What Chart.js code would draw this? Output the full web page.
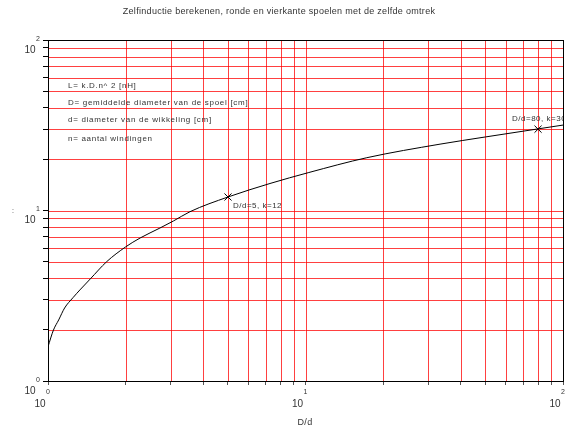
<!DOCTYPE html>
<html>
<head>
<meta charset="utf-8">
<script src="https://cdn.jsdelivr.net/npm/chart.js@4.4.0/dist/chart.umd.min.js"></script>
<style>
  html, body { margin: 0; padding: 0; background: #fff; }
</style>
</head>
<body>
<canvas id="myChart" width="571" height="432"></canvas>
<script>
// curve: D/d against k
const ratio = [1, 1.05, 1.1, 1.16, 1.25, 1.33, 1.46, 1.69, 2, 2.28, 2.72, 3.07, 3.56, 5, 7.28, 10.3, 17.3, 33.3, 50, 80, 100];
const kValues = [1.59, 1.99, 2.28, 2.68, 3.08, 3.42, 3.97, 5.01, 6.11, 6.9, 7.89, 8.68, 9.84, 12, 14.4, 16.7, 20.4, 24.5, 27, 30.1, 31.7];

// marked points
const markRatio = [5, 80];
const markK = [12, 30];
const markLabels = ['D/d=5, k=12', 'D/d=80, k=30'];

// grid positions on both log axes
const gridValues = [1, 2, 3, 4, 5, 6, 7, 8, 9, 10, 20, 30, 40, 50, 60, 70, 80, 90, 100];

// decade tick labels (10 with exponent)
const decades = [1, 10, 100];
const exponents = ['0', '1', '2'];

const legendLines = [
  'L= k.D.n^ 2 [nH]',
  'D= gemiddelde diameter van de spoel [cm]',
  'd= diameter van de wikkeling [cm]',
  'n= aantal windingen'
];
const titleText = 'Zelfinductie berekenen, ronde en vierkante spoelen met de zelfde omtrek';
const xTitle = 'D/d';

const gridRed = 'rgba(255,0,0,0.75)';
const textCol = '#333';
const FONT = '"Liberation Sans", Arial, sans-serif';

// red grid drawn from the scales' own pixel mapping
const redGrid = {
  id: 'redGrid',
  beforeDatasetsDraw(chart) {
    const ctx = chart.ctx;
    const a = chart.chartArea;
    const xs = chart.scales.x, ys = chart.scales.y;
    ctx.save();
    ctx.strokeStyle = gridRed;
    ctx.lineWidth = 1;
    ctx.beginPath();
    gridValues.forEach(v => {
      const px = Math.round(xs.getPixelForValue(v)) + 0.5;
      ctx.moveTo(px, a.top);
      ctx.lineTo(px, a.bottom);
      const py = Math.round(ys.getPixelForValue(v)) + 0.5;
      ctx.moveTo(a.left, py);
      ctx.lineTo(a.right, py);
    });
    ctx.stroke();
    ctx.restore();
  }
};

const extras = {
  id: 'extras',
  afterDraw(chart) {
    const ctx = chart.ctx;
    const a = chart.chartArea;
    const xs = chart.scales.x, ys = chart.scales.y;
    ctx.save();

    // frame
    ctx.strokeStyle = '#000';
    ctx.lineWidth = 1;
    ctx.strokeRect(Math.round(a.left) + 0.5, Math.round(a.top) + 0.5,
      Math.round(a.right - a.left), Math.round(a.bottom - a.top));

    ctx.fillStyle = textCol;
    ctx.textBaseline = 'middle';

    // title
    ctx.font = '9px ' + FONT;
    ctx.letterSpacing = '0.3px';
    ctx.textAlign = 'center';
    ctx.fillText(titleText, 279, 12);

    // x title
    ctx.fillText(xTitle, 305, 423);

    // y title (squeezed)
    ctx.font = '7px ' + FONT;
    ctx.fillText(':', 13, 211);
    ctx.letterSpacing = '0px';

    // decade labels on y
    decades.forEach((v, i) => {
      const py = ys.getPixelForValue(v);
      ctx.font = '10px ' + FONT;
      ctx.textAlign = 'center';
      ctx.fillText('10', 30, py + 10);
      ctx.font = '7px ' + FONT;
      ctx.fillText(exponents[i], 38, py - 1);
    });

    // decade labels on x
    decades.forEach((v, i) => {
      const px = xs.getPixelForValue(v);
      ctx.font = '7px ' + FONT;
      ctx.textAlign = 'center';
      ctx.fillText(exponents[i], px, 392);
      ctx.font = '10px ' + FONT;
      ctx.fillText('10', px - 8, 404);
    });

    // legend text block
    ctx.font = '8px ' + FONT;
    ctx.letterSpacing = '0.7px';
    ctx.textAlign = 'left';
    const ly = [86, 103, 120, 139];
    legendLines.forEach((t, i) => ctx.fillText(t, 68, ly[i]));

    // marker labels, clipped to plot area
    ctx.beginPath();
    ctx.rect(a.left, a.top, a.right - a.left, a.bottom - a.top);
    ctx.clip();
    ctx.letterSpacing = '0.5px';
    const offs = [[5, 9], [-26, -10]];
    markLabels.forEach((t, i) => {
      const px = xs.getPixelForValue(markRatio[i]);
      const py = ys.getPixelForValue(markK[i]);
      ctx.fillText(t, px + offs[i][0], py + offs[i][1]);
    });

    ctx.restore();
  }
};

function fixedTicks(scale) {
  scale.ticks = gridValues.map(v => ({ value: v }));
}

const ctx = document.getElementById('myChart').getContext('2d');
const chart = new Chart(ctx, {
  type: 'line',
  data: {
    datasets: [{
      data: ratio.map((r, i) => ({ x: r, y: kValues[i] })),
      borderColor: '#000',
      borderWidth: 1,
      pointRadius: 0,
      cubicInterpolationMode: 'monotone',
      fill: false
    }, {
      data: markRatio.map((r, i) => ({ x: r, y: markK[i] })),
      showLine: false,
      pointStyle: 'crossRot',
      pointRadius: 5,
      borderColor: '#000',
      borderWidth: 1
    }]
  },
  options: {
    responsive: false,
    animation: false,
    devicePixelRatio: 1,
    layout: { padding: { top: 40, right: 8, left: 0, bottom: 0 } },
    plugins: { legend: { display: false }, tooltip: { enabled: false }, title: { display: false } },
    scales: {
      x: {
        type: 'logarithmic',
        min: 1, max: 100,
        afterBuildTicks: fixedTicks,
        ticks: { display: false, autoSkip: false },
        grid: { drawOnChartArea: false, color: '#555', tickColor: '#555', tickLength: 4 },
        border: { color: '#000', width: 1 },
        afterFit(s) { s.height = 51; }
      },
      y: {
        type: 'logarithmic',
        min: 1, max: 100,
        afterBuildTicks: fixedTicks,
        ticks: { display: false, autoSkip: false },
        grid: { drawOnChartArea: false, color: '#000', tickColor: '#000', tickLength: 5 },
        border: { color: '#000', width: 1 },
        afterFit(s) { s.width = 48; }
      }
    }
  },
  plugins: [redGrid, extras]
});
</script>
</body>
</html>
